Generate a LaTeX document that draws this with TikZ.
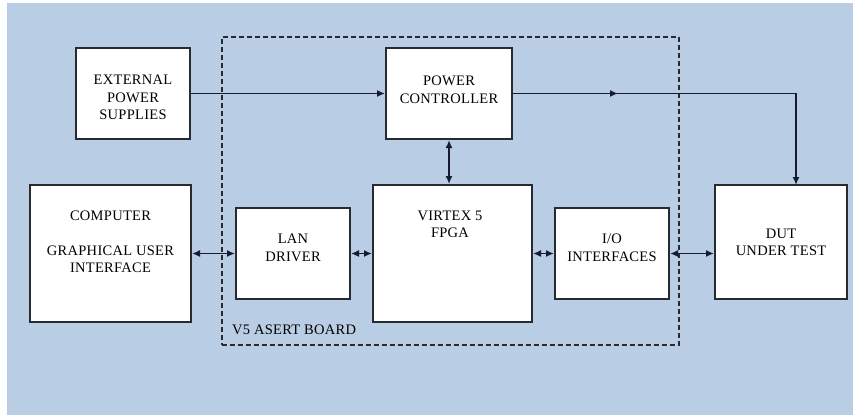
\documentclass[tikz,border=0pt]{standalone}
\usepackage{fontspec}
\setmainfont{Liberation Serif}[LetterSpace=2]
\usetikzlibrary{arrows.meta}
\definecolor{bgblue}{RGB}{185,205,229}
\definecolor{edge}{RGB}{40,42,50}
\definecolor{wire}{RGB}{22,28,48}
\begin{document}
\begin{tikzpicture}[x=1pt,y=-1pt,
  box/.style={draw=edge,line width=2pt,fill=white,inner sep=0pt},
  lbl/.style={font=\fontsize{14.5}{17.5}\selectfont,align=center,inner sep=0pt,text=black},
  wirel/.style={draw=wire,line width=1.7pt},
  tip/.style={-{Latex[length=8pt,width=7pt]}},
  dtip/.style={{Latex[length=8pt,width=7pt]}-{Latex[length=8pt,width=7pt]}}]
\useasboundingbox (0,0) rectangle (853,418);
\fill[bgblue] (7,3) rectangle (853,415);

% dashed board outline
\node[draw=edge,line width=1.5pt,dash pattern=on 5pt off 3pt,inner sep=0pt,
      minimum width=457pt,minimum height=308pt] (board) at (450.5,191) {};

% boxes
\node[box,minimum width=114pt,minimum height=91pt]  (ext)  at (133,93.5) {};
\node[box,minimum width=126pt,minimum height=91pt]  (pow)  at (449,93.5) {};
\node[box,minimum width=161pt,minimum height=137pt] (comp) at (110.5,253.5) {};
\node[box,minimum width=114pt,minimum height=91pt]  (lan)  at (293,253.5) {};
\node[box,minimum width=159pt,minimum height=137pt] (fpga) at (452.5,253.5) {};
\node[box,minimum width=114pt,minimum height=91pt]  (io)   at (612,253.5) {};
\node[box,minimum width=132pt,minimum height=114pt] (dut)  at (781,242) {};

% texts
\node[lbl] (extT)  at (133,97.5)  {EXTERNAL\\POWER\\SUPPLIES};
\node[lbl] (powT)  at (449,90)    {POWER\\CONTROLLER};
\node[lbl] (compT) at (110.5,242) {COMPUTER\\[17.5pt]GRAPHICAL USER\\INTERFACE};
\node[lbl] (lanT)  at (293,248)   {LAN\\DRIVER};
\node[lbl] (fpgaT) at (450,224.5) {VIRTEX 5\\FPGA};
\node[lbl] (ioT)   at (612,248)   {I/O\\INTERFACES};
\node[lbl] (dutT)  at (781,242.5) {DUT\\UNDER TEST};
\node[lbl,anchor=west] (boardT) at (232,330) {V5 ASERT BOARD};

% connectors
\coordinate (midarr) at (618,93.5);
\coordinate (corner) at (796,93.5);
\coordinate (dutin)  at (796,185);
\draw[wirel,tip] (ext.east) -- (pow.west);
\draw[wirel,tip] (pow.east) -- (corner) -- (dutin);
\draw[wirel,tip] (pow.east) -- (midarr);
\draw[wirel,dtip] (pow.south) -- (pow.south |- fpga.north);
\draw[wirel,dtip] (comp.east) -- (lan.west);
\draw[wirel,dtip] (lan.east) -- (fpga.west);
\draw[wirel,dtip] (fpga.east) -- (io.west);
\draw[wirel,dtip] (io.east) -- (dut.west |- io.east);
\end{tikzpicture}
\end{document}
